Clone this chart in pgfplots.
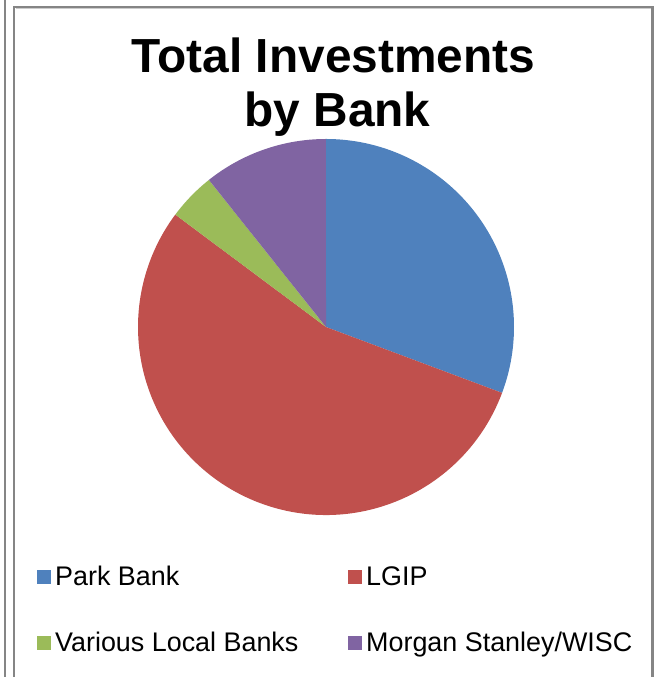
\documentclass[border=0pt]{standalone}
\usepackage{pgfplots}
\pgfplotsset{compat=1.18}
\usepackage{pgfplotstable}
\usepackage{fontspec}
\setmainfont{Liberation Sans}
\definecolor{cA}{HTML}{4F81BD}
\definecolor{cB}{HTML}{C0504D}
\definecolor{cC}{HTML}{9BBB59}
\definecolor{cD}{HTML}{8064A2}
\definecolor{frame}{HTML}{858585}

\pgfplotstableread[col sep=comma]{
label,value
Park Bank,30.7
LGIP,54.5
Various Local Banks,4.1
Morgan Stanley/WISC,10.7
}\piedata

\begin{document}
\pgfplotstablegetelem{0}{value}\of\piedata\pgfmathsetmacro\vA{\pgfplotsretval}%
\pgfplotstablegetelem{1}{value}\of\piedata\pgfmathsetmacro\vB{\pgfplotsretval}%
\pgfplotstablegetelem{2}{value}\of\piedata\pgfmathsetmacro\vC{\pgfplotsretval}%
\pgfplotstablegetelem{3}{value}\of\piedata\pgfmathsetmacro\vD{\pgfplotsretval}%
\pgfmathsetmacro\tot{\vA+\vB+\vC+\vD}%
\pgfmathsetmacro\aA{90}%
\pgfmathsetmacro\aB{\aA-\vA/\tot*360}%
\pgfmathsetmacro\aC{\aB-\vB/\tot*360}%
\pgfmathsetmacro\aD{\aC-\vC/\tot*360}%
\pgfmathsetmacro\aE{\aD-\vD/\tot*360}%
\begin{tikzpicture}[x=1bp,y=1bp]
\useasboundingbox (0,0) rectangle (654,677);
\draw[frame, line width=2.2bp] (5,0) -- (5,677);
\draw[frame, line width=2.2bp] (14,0) -- (14,670) -- (652.5,670) -- (652.5,0);
\draw[white!80!black, line width=0.8bp] (15.5,668.3) -- (651,668.3);
% title
\node[anchor=base, inner sep=0pt, font=\fontsize{48}{54}\bfseries\selectfont] at (333.5,677-72.7) {Total Investments};
\node[anchor=base, inner sep=0pt, font=\fontsize{48}{54}\bfseries\selectfont] at (337.5,677-126.7) {by Bank};
\begin{axis}[x=1bp, y=1bp, xmin=-188, xmax=188, ymin=-188, ymax=188,
  hide axis, clip=false, anchor=center, at={(326,677-327)}]
\fill[cA] (axis cs:0,0) -- (axis cs:{188*cos(\aA)},{188*sin(\aA)}) arc[start angle=\aA, end angle=\aB, radius=188bp] -- cycle;
\fill[cB] (axis cs:0,0) -- (axis cs:{188*cos(\aB)},{188*sin(\aB)}) arc[start angle=\aB, end angle=\aC, radius=188bp] -- cycle;
\fill[cC] (axis cs:0,0) -- (axis cs:{188*cos(\aC)},{188*sin(\aC)}) arc[start angle=\aC, end angle=\aD, radius=188bp] -- cycle;
\fill[cD] (axis cs:0,0) -- (axis cs:{188*cos(\aD)},{188*sin(\aD)}) arc[start angle=\aD, end angle=\aE, radius=188bp] -- cycle;
\end{axis}
% legend
\fill[cA] (37,677-584) rectangle (51,677-570);
\node[anchor=base west, inner sep=0pt, font=\fontsize{27}{30}\selectfont] at (55,677-586) {Park Bank};
\fill[cB] (347.5,677-584) rectangle (361.5,677-570);
\node[anchor=base west, inner sep=0pt, font=\fontsize{27}{30}\selectfont] at (366,677-586) {LGIP};
\fill[cC] (37,677-650) rectangle (51,677-636);
\node[anchor=base west, inner sep=0pt, font=\fontsize{27}{30}\selectfont] at (55,677-652) {Various Local Banks};
\fill[cD] (347.5,677-650) rectangle (361.5,677-636);
\node[anchor=base west, inner sep=0pt, font=\fontsize{27}{30}\selectfont] at (366,677-652) {Morgan Stanley/WISC};
\end{tikzpicture}
\end{document}
